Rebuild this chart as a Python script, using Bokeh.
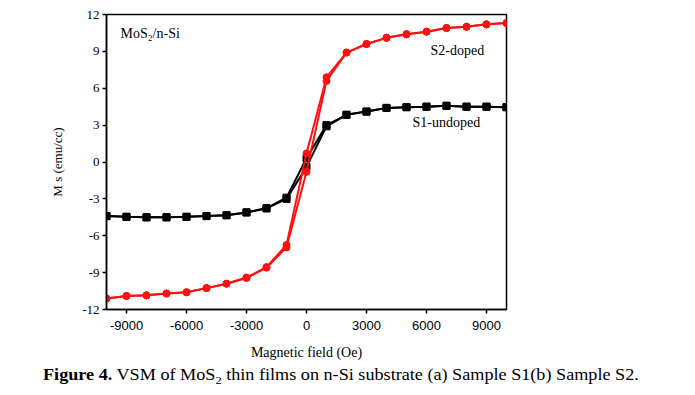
from bokeh.plotting import figure
from bokeh.models import Label, FixedTicker, Range1d, Div
from bokeh.layouts import column
from bokeh.embed import file_html
from bokeh.resources import INLINE

field = [-10000, -9000, -8000, -7000, -6000, -5000, -4000, -3000, -2000, -1000, 0,
         1000, 2000, 3000, 4000, 5000, 6000, 7000, 8000, 9000, 10000]
s1_up = [-4.4, -4.46, -4.5, -4.5, -4.46, -4.4, -4.33, -4.1, -3.78, -3.0, -0.4,
         2.9, 3.84, 4.1, 4.4, 4.46, 4.5, 4.57, 4.5, 4.5, 4.46]
s1_down = [-4.4, -4.46, -4.5, -4.5, -4.46, -4.4, -4.33, -4.1, -3.75, -2.9, 0.3,
           3.0, 3.84, 4.1, 4.4, 4.46, 4.5, 4.57, 4.5, 4.5, 4.46]
s2_up = [-11.1, -10.9, -10.85, -10.7, -10.6, -10.26, -9.9, -9.44, -8.6, -6.95, -0.8,
         6.6, 8.9, 9.6, 10.1, 10.4, 10.6, 10.9, 11.0, 11.2, 11.3]
s2_down = [-11.1, -10.9, -10.85, -10.7, -10.6, -10.26, -9.9, -9.4, -8.55, -6.75, 0.7,
           6.9, 8.9, 9.6, 10.1, 10.4, 10.6, 10.9, 11.0, 11.2, 11.3]
x_ticks = [-9000, -6000, -3000, 0, 3000, 6000, 9000]
x_tick_labels = ["-9000", "-6000", "-3000", "0", "3000", "6000", "9000"]
y_ticks = [-12, -9, -6, -3, 0, 3, 6, 9, 12]
y_tick_labels = ["-12", "-9", "-6", "-3", "0", "3", "6", "9", "12"]

FONT = "Liberation Serif"
SANS = "Liberation Sans"

p = figure(width=695, height=362, output_backend="svg", toolbar_location=None,
           x_range=Range1d(-10000, 10000), y_range=Range1d(-12, 12),
           min_border_left=106, min_border_right=189, min_border_top=14,
           min_border_bottom=53)
p.grid.visible = False
p.outline_line_color = "black"
p.outline_line_width = 1.5
p.background_fill_color = "white"
p.border_fill_color = "white"

for ax in (p.xaxis[0], p.yaxis[0]):
    ax.axis_line_color = "black"
    ax.axis_line_width = 1.5
    ax.major_tick_line_color = "black"
    ax.major_tick_line_width = 1.5
    ax.major_tick_out = 4
    ax.major_tick_in = 0
    ax.minor_tick_line_color = None
    ax.major_label_text_color = "black"
    ax.axis_label_text_font = FONT
    ax.axis_label_text_font_size = "14px"
    ax.axis_label_text_font_style = "normal"
    ax.axis_label_text_color = "black"

p.xaxis.major_label_text_font = SANS
p.xaxis.major_label_text_font_size = "13px"
p.yaxis.major_label_text_font = FONT
p.yaxis.major_label_text_font_size = "13px"
p.yaxis.axis_label_text_font_size = "13px"

p.xaxis.ticker = FixedTicker(ticks=x_ticks)
p.yaxis.ticker = FixedTicker(ticks=y_ticks)
p.xaxis.major_label_overrides = dict(zip(x_ticks, x_tick_labels))
p.yaxis.major_label_overrides = dict(zip(y_ticks, y_tick_labels))
p.xaxis.axis_label = "Magnetic field (Oe)"
p.yaxis.axis_label = "M s (emu/cc)"
p.xaxis.major_label_standoff = 7
p.xaxis.axis_label_standoff = 12
p.yaxis.major_label_standoff = 3
p.yaxis.axis_label_standoff = 14

# S1 undoped (black squares)
p.line(field, s1_up, line_color="black", line_width=2)
p.line(field, s1_down, line_color="black", line_width=2)
p.scatter(field, s1_up, marker="square", size=7, color="black")
p.scatter(field, s1_down, marker="square", size=7, color="black")

# S2 doped (red circles)
p.line(field, s2_up, line_color="#ff1010", line_width=2)
p.line(field, s2_down, line_color="#ff1010", line_width=2)
p.scatter(field, s2_up, marker="circle", size=7, color="#ff1010")
p.scatter(field, s2_down, marker="circle", size=7, color="#ff1010")

p.add_layout(Label(x=-9300, y=10.45, text="MoS\u2082/n-Si", text_font=FONT,
                   text_font_size="14px", text_baseline="middle", text_color="black"))
p.add_layout(Label(x=6200, y=9.1, text="S2-doped", text_font=FONT,
                   text_font_size="14px", text_baseline="middle", text_color="black"))
p.add_layout(Label(x=5300, y=3.2, text="S1-undoped", text_font=FONT,
                   text_font_size="14px", text_baseline="middle", text_color="black"))

caption = Div(
    text="<b>Figure 4.</b> VSM of MoS<sub style='font-size:11px'>2</sub> thin films on "
         "n-Si substrate (a) Sample S1(b) Sample S2.",
    width=652, height=30, margin=(4, 0, 0, 43),
    styles={"font-family": FONT, "font-size": "16px", "color": "black",
            "line-height": "18px", "white-space": "nowrap",
            "transform": "scaleX(1.135)", "transform-origin": "left center"})

layout = column(p, caption, spacing=0)
open("out.html", "w").write(file_html(layout, INLINE))
